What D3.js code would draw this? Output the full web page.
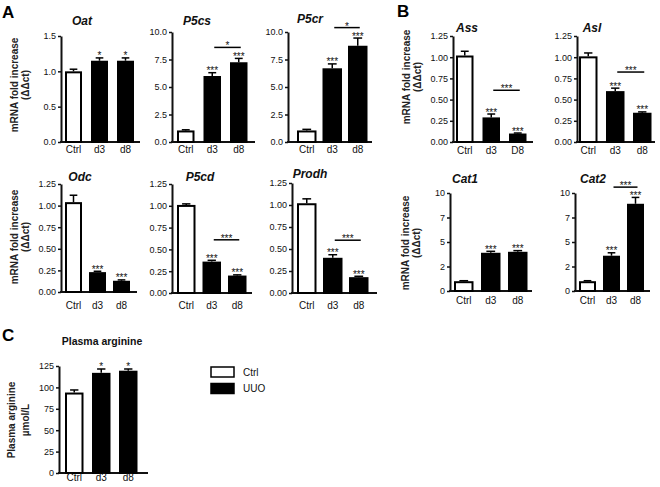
<!DOCTYPE html>
<html>
<head>
<meta charset="utf-8">
<script src="https://cdn.jsdelivr.net/npm/d3@7"></script>
<style>
  body { margin: 0; background: #fff; }
  svg { font-family: 'Liberation Sans', Arial, sans-serif; }
</style>
</head>
<body>
<svg id="fig" width="660" height="487"></svg>
<script>
// groups
const groups = ['Ctrl', 'd3', 'd8'];
const groupsAss = ['Ctrl', 'd3', 'D8'];
const isUUO = [false, true, true];

// A - proline / ornithine genes (mRNA fold increase)
const oatMean = [1.0, 1.15, 1.15];
const oatErr = [0.03, 0.04, 0.04];
const oatStars = ['', '*', '*'];

const p5csMean = [1.05, 6.0, 7.25];
const p5csErr = [0.06, 0.3, 0.35];
const p5csStars = ['', '***', '***'];

const p5crMean = [1.05, 6.7, 8.75];
const p5crErr = [0.1, 0.4, 0.7];
const p5crStars = ['', '***', '***'];

const odcMean = [1.04, 0.23, 0.13];
const odcErr = [0.08, 0.01, 0.01];
const odcStars = ['', '***', '***'];

const p5cdMean = [1.01, 0.36, 0.2];
const p5cdErr = [0.012, 0.015, 0.008];
const p5cdStars = ['', '***', '***'];

const prodhMean = [1.02, 0.4, 0.18];
const prodhErr = [0.05, 0.035, 0.01];
const prodhStars = ['', '***', '***'];

// B - arginine genes
const assMean = [1.02, 0.29, 0.1];
const assErr = [0.05, 0.04, 0.006];
const assStars = ['', '***', '***'];

const aslMean = [1.01, 0.6, 0.345];
const aslErr = [0.04, 0.035, 0.01];
const aslStars = ['', '***', '***'];

const cat1Mean = [1.0, 3.9, 4.0];
const cat1Err = [0.05, 0.15, 0.12];
const cat1Stars = ['', '***', '***'];

const cat2Mean = [1.0, 3.6, 8.9];
const cat2Err = [0.05, 0.3, 0.65];
const cat2Stars = ['', '***', '***'];

// C - plasma arginine (umol/L)
const argMean = [94, 117, 119.5];
const argErr = [3, 4.5, 2];
const argStars = ['', '*', '*'];

// d3 vs d8 comparisons: [value where the line sits, stars]
const p5csSig = [8.6, '*'];
const p5crSig = [10.4, '*'];
const p5cdSig = [0.61, '***'];
const prodhSig = [0.60, '***'];
const assSig = [0.61, '***'];
const aslSig = [0.825, '***'];
const cat2Sig = [10.6, '***'];

// ticks
const ticks15 = [0, 0.5, 1, 1.5];
const ticks10 = [0, 2.5, 5, 7.5, 10];
const ticks125 = [0, 0.25, 0.5, 0.75, 1, 1.25];
const ticksArg = [0, 25, 50, 75, 100, 125];
const catTickLabels = ['0', '2', '5', '7', '10'];

const legendLabels = ['Ctrl', 'UUO'];

const svg = d3.select('#fig');
const ink = '#111';

function panel(p) {
  const g = svg.append('g');
  const gap = (p.s - p.w) / p.s;
  const start = p.L - (p.s - p.w) / 2;

  const y = d3.scaleLinear().domain(p.domain).range([p.base, p.top]);
  const x = d3.scaleBand()
    .domain(p.cats)
    .range([start, start + 3 * p.s])
    .paddingInner(gap)
    .paddingOuter(gap / 2);

  const fmt = p.labels ? ((d, i) => p.labels[i]) : d3.format(p.fmt);

  const ax = g.append('g')
    .attr('transform', 'translate(' + p.ax + ',0)')
    .call(d3.axisLeft(y).tickValues(p.ticks).tickSize(3).tickSizeOuter(0).tickPadding(2).tickFormat(fmt));
  ax.select('.domain').attr('stroke', ink).attr('stroke-width', 2);
  ax.selectAll('.tick line').attr('stroke', ink).attr('stroke-width', 1.5);
  ax.selectAll('.tick text').attr('fill', ink).style('font-size', '9px');

  // x axis baseline
  g.append('line')
    .attr('x1', p.ax - 1).attr('x2', p.end)
    .attr('y1', p.base).attr('y2', p.base)
    .attr('stroke', ink).attr('stroke-width', 2);

  const bw = x.bandwidth();

  g.selectAll('rect.bar')
    .data(p.mean)
    .enter()
    .append('rect')
    .attr('class', 'bar')
    .attr('x', (d, i) => x(p.cats[i]) + 1)
    .attr('width', bw - 2)
    .attr('y', d => y(d) + 1)
    .attr('height', d => p.base - y(d) - 1)
    .attr('fill', (d, i) => isUUO[i] ? '#000' : '#fff')
    .attr('stroke', '#000')
    .attr('stroke-width', 2);

  // error bars, upper half only
  p.mean.forEach((m, i) => {
    const cx = x(p.cats[i]) + bw / 2;
    const top = y(m + p.err[i]);
    const cw = bw * 0.45;
    g.append('line').attr('x1', cx).attr('x2', cx).attr('y1', y(m)).attr('y2', top)
      .attr('stroke', '#000').attr('stroke-width', 1.5);
    g.append('line').attr('x1', cx - cw / 2).attr('x2', cx + cw / 2).attr('y1', top).attr('y2', top)
      .attr('stroke', '#000').attr('stroke-width', 1.5);
    if (p.stars[i]) {
      g.append('text').attr('x', cx).attr('y', top + 1.5)
        .attr('text-anchor', 'middle').style('font-size', '10px').attr('fill', ink)
        .text(p.stars[i]);
    }
  });

  if (p.sig) {
    const ly = y(p.sig[0]);
    const x1 = x(p.cats[1]) + bw / 2 + 2;
    const x2 = x(p.cats[2]) + bw / 2 + 2;
    g.append('line').attr('x1', x1).attr('x2', x2).attr('y1', ly).attr('y2', ly)
      .attr('stroke', '#000').attr('stroke-width', 1.5);
    g.append('text').attr('x', (x1 + x2) / 2).attr('y', ly + 2)
      .attr('text-anchor', 'middle').style('font-size', '10px').attr('fill', ink)
      .text(p.sig[1]);
  }

  g.selectAll('text.cat')
    .data(p.cats)
    .enter()
    .append('text')
    .attr('class', 'cat')
    .attr('x', d => x(d) + bw / 2)
    .attr('y', p.catY)
    .attr('text-anchor', 'middle')
    .style('font-size', '10px')
    .attr('fill', ink)
    .text(d => d);

  g.append('text')
    .attr('x', p.tx).attr('y', p.ty)
    .attr('text-anchor', 'middle')
    .style('font-size', p.italic === false ? '10.5px' : '12px')
    .style('font-weight', 'bold')
    .style('font-style', p.italic === false ? 'normal' : 'italic')
    .attr('fill', ink)
    .text(p.title);
}

// panel A
panel({ title: 'Oat', cats: groups, mean: oatMean, err: oatErr, stars: oatStars,
  domain: [0, 1.5], ticks: ticks15, fmt: '.1f',
  ax: 61, L: 65, s: 26, w: 17, end: 140, top: 36, base: 142, tx: 82, ty: 25, catY: 153 });
panel({ title: 'P5cs', cats: groups, mean: p5csMean, err: p5csErr, stars: p5csStars, sig: p5csSig,
  domain: [0, 10], ticks: ticks10, fmt: '.1f',
  ax: 172, L: 177, s: 26.5, w: 17.5, end: 255, top: 32, base: 142, tx: 197, ty: 25, catY: 153 });
panel({ title: 'P5cr', cats: groups, mean: p5crMean, err: p5crErr, stars: p5crStars, sig: p5crSig,
  domain: [0, 10], ticks: ticks10, fmt: '.1f',
  ax: 288, L: 297, s: 25.5, w: 19.5, end: 372, top: 32, base: 142, tx: 310, ty: 23, catY: 153 });
panel({ title: 'Odc', cats: groups, mean: odcMean, err: odcErr, stars: odcStars,
  domain: [0, 1.25], ticks: ticks125, fmt: '.2f',
  ax: 61, L: 65, s: 24, w: 17, end: 137, top: 184, base: 292, tx: 80, ty: 181, catY: 309 });
panel({ title: 'P5cd', cats: groups, mean: p5cdMean, err: p5cdErr, stars: p5cdStars, sig: p5cdSig,
  domain: [0, 1.25], ticks: ticks125, fmt: '.2f',
  ax: 172, L: 177, s: 25.5, w: 18.5, end: 252, top: 184, base: 293, tx: 200, ty: 181, catY: 309 });
panel({ title: 'Prodh', cats: groups, mean: prodhMean, err: prodhErr, stars: prodhStars, sig: prodhSig,
  domain: [0, 1.25], ticks: ticks125, fmt: '.2f',
  ax: 292, L: 297, s: 26, w: 19.5, end: 377, top: 183, base: 293, tx: 310, ty: 178, catY: 309 });

// panel B
panel({ title: 'Ass', cats: groupsAss, mean: assMean, err: assErr, stars: assStars, sig: assSig,
  domain: [0, 1.25], ticks: ticks125, fmt: '.2f',
  ax: 453, L: 456, s: 26.5, w: 17.5, end: 533, top: 36, base: 142, tx: 467, ty: 32, catY: 154 });
panel({ title: 'Asl', cats: groups, mean: aslMean, err: aslErr, stars: aslStars, sig: aslSig,
  domain: [0, 1.25], ticks: ticks125, fmt: '.2f',
  ax: 577, L: 579, s: 27, w: 18.5, end: 655, top: 36, base: 142, tx: 592, ty: 32, catY: 154 });
panel({ title: 'Cat1', cats: groups, mean: cat1Mean, err: cat1Err, stars: cat1Stars,
  domain: [0, 10], ticks: ticks10, labels: catTickLabels,
  ax: 450, L: 454, s: 27, w: 19.5, end: 532, top: 193, base: 291, tx: 465, ty: 183, catY: 304 });
panel({ title: 'Cat2', cats: groups, mean: cat2Mean, err: cat2Err, stars: cat2Stars, sig: cat2Sig,
  domain: [0, 10], ticks: ticks10, labels: catTickLabels,
  ax: 575, L: 579, s: 24, w: 17, end: 650, top: 193, base: 291, tx: 593, ty: 183, catY: 304 });

// panel C
panel({ title: 'Plasma arginine', italic: false, cats: groups, mean: argMean, err: argErr, stars: argStars,
  domain: [0, 125], ticks: ticksArg, fmt: 'd',
  ax: 59, L: 65, s: 27, w: 18.5, end: 148, top: 366, base: 473, tx: 102, ty: 345, catY: 481 });

// y axis titles
function yTitle(lines, xs, cy) {
  lines.forEach((t, i) => {
    svg.append('text')
      .attr('transform', 'translate(' + xs[i] + ',' + cy + ') rotate(-90)')
      .attr('text-anchor', 'middle')
      .style('font-size', '10px')
      .style('font-weight', 'bold')
      .attr('fill', '#222')
      .text(t);
  });
}
yTitle(['mRNA fold increase', '(\u0394\u0394ct)'], [18, 29], 85);
yTitle(['mRNA fold increase', '(\u0394\u0394ct)'], [18, 29], 237);
yTitle(['mRNA fold increase', '(\u0394\u0394ct)'], [410, 421], 77);
yTitle(['mRNA fold increase', '(\u0394\u0394ct)'], [409, 420], 243);
yTitle(['Plasma arginine', '\u00b5mol/L'], [15, 29], 420);

// panel letters
[['A', 2, 18], ['B', 397, 17], ['C', 2, 341]].forEach(l => {
  svg.append('text').attr('x', l[1]).attr('y', l[2])
    .style('font-size', '17px').style('font-weight', 'bold').attr('fill', '#000')
    .text(l[0]);
});

// legend
legendLabels.forEach((t, i) => {
  svg.append('rect')
    .attr('x', 211).attr('y', 367 + i * 16.5)
    .attr('width', 23).attr('height', 10)
    .attr('fill', isUUO[i + 1] && i === 1 ? '#000' : '#fff')
    .attr('stroke', '#000').attr('stroke-width', 1.5);
  svg.append('text')
    .attr('x', 243).attr('y', 375.5 + i * 16.5)
    .style('font-size', '10px').attr('fill', ink)
    .text(t);
});
</script>
</body>
</html>
